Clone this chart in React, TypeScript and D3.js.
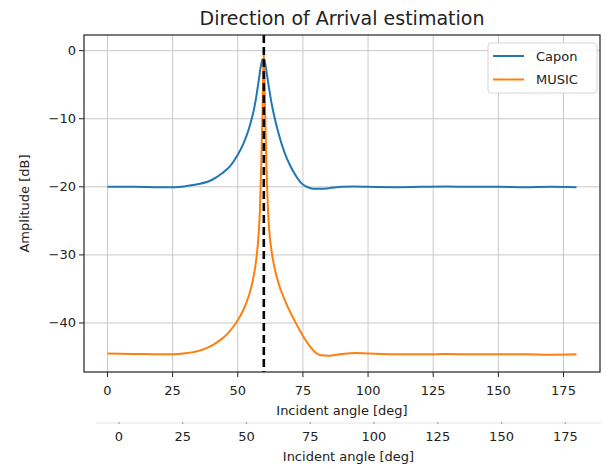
import React from "react";
import * as d3 from "d3";

const caponAngles = [0, 10, 20, 25, 30, 35, 40, 44, 47, 50, 52, 54, 55, 56, 57, 58, 59, 59.5, 60, 60.5, 61, 62, 63, 64, 65, 66, 67, 68, 70, 72, 74, 76, 78, 80, 82, 85, 90, 95, 100, 110, 120, 130, 140, 150, 160, 170, 180];
const caponValues = [-20.0, -20.0, -20.05, -20.05, -19.9, -19.6, -19.0, -18.0, -17.0, -15.3, -13.8, -11.8, -10.5, -9.0, -7.0, -4.5, -2.0, -1.3, -1.2, -1.8, -3.0, -5.5, -7.8, -9.6, -11.2, -12.6, -13.9, -15.0, -16.8, -18.2, -19.3, -19.9, -20.2, -20.3, -20.3, -20.2, -20.0, -19.95, -20.0, -20.05, -20.0, -19.95, -20.0, -20.0, -20.05, -20.0, -20.05];

const musicAngles = [0, 10, 20, 25, 30, 35, 38, 41, 44, 46, 48, 50, 52, 54, 55, 56, 57, 58, 58.5, 59, 59.5, 60, 60.5, 61, 61.5, 62, 63, 64, 65, 66, 68, 70, 72, 74, 76, 78, 80, 82, 85, 90, 95, 100, 110, 120, 130, 140, 150, 160, 170, 180];
const musicValues = [-44.5, -44.55, -44.6, -44.6, -44.45, -44.1, -43.7, -43.1, -42.3, -41.6, -40.7, -39.6, -38.2, -36.3, -35.0, -33.3, -31.0, -27.0, -23.5, -17.0, -9.0, 0.0, -9.0, -17.0, -22.5, -26.0, -29.5, -31.7, -33.3, -34.6, -36.6, -38.3, -39.8, -41.2, -42.5, -43.6, -44.4, -44.75, -44.8, -44.55, -44.4, -44.5, -44.6, -44.6, -44.55, -44.6, -44.6, -44.6, -44.65, -44.6];

const xTicks = [0, 25, 50, 75, 100, 125, 150, 175];
const yTicks = [0, -10, -20, -30, -40];
const doaAngle = 60;
const seriesNames = ["Capon", "MUSIC"];
const seriesColors = ["#1f77b4", "#ff7f0e"];

const W = 612, H = 469;
const M = { left: 84, right: 600, top: 35, bottom: 372 };

export default function App() {
  const x = d3.scaleLinear().domain([-9, 189]).range([M.left, M.right]);
  const y = d3.scaleLinear().domain([-47.2, 2.3]).range([M.bottom, M.top]);
  const x2 = d3.scaleLinear().domain([-9, 189]).range([96, 601]);
  const line = d3.line<[number, number]>().x(d => x(d[0])).y(d => y(d[1])).curve(d3.curveMonotoneX);
  const capon = line(caponAngles.map((a, i) => [a, caponValues[i]] as [number, number])) || "";
  const music = line(musicAngles.map((a, i) => [a, musicValues[i]] as [number, number])) || "";
  const font = "DejaVu Sans, sans-serif";
  return (
    <svg width={W} height={H} style={{ position: "fixed", left: 0, top: 0, background: "#fff" }} fontFamily={font}>
      <rect x={0} y={0} width={W} height={H} fill="#fff" />
      <text x={(M.left + M.right) / 2} y={25} textAnchor="middle" fontSize={19} fill="#222">Direction of Arrival estimation</text>
      <defs>
        <clipPath id="plot"><rect x={M.left} y={M.top} width={M.right - M.left} height={M.bottom - M.top} /></clipPath>
      </defs>
      {xTicks.map(t => (
        <line key={"gx" + t} x1={x(t)} x2={x(t)} y1={M.top} y2={M.bottom} stroke="#c8c8c8" strokeWidth={1} />
      ))}
      {yTicks.map(t => (
        <line key={"gy" + t} x1={M.left} x2={M.right} y1={y(t)} y2={y(t)} stroke="#c8c8c8" strokeWidth={1} />
      ))}
      <g clipPath="url(#plot)">
        <path d={capon} fill="none" stroke={seriesColors[0]} strokeWidth={2} />
        <path d={music} fill="none" stroke={seriesColors[1]} strokeWidth={2} />
        <line x1={x(doaAngle)} x2={x(doaAngle)} y1={M.top} y2={M.bottom} stroke="#000" strokeWidth={2.6} strokeDasharray="8,4" />
      </g>
      <rect x={M.left} y={M.top} width={M.right - M.left} height={M.bottom - M.top} fill="none" stroke="#222" strokeWidth={1.2} />
      {xTicks.map(t => (
        <g key={"tx" + t}>
          <line x1={x(t)} x2={x(t)} y1={M.bottom} y2={M.bottom + 5} stroke="#222" strokeWidth={1} />
          <text x={x(t)} y={395} textAnchor="middle" fontSize={13} fill="#222">{t}</text>
        </g>
      ))}
      {yTicks.map(t => (
        <g key={"ty" + t}>
          <line x1={M.left - 5} x2={M.left} y1={y(t)} y2={y(t)} stroke="#222" strokeWidth={1} />
          <text x={76} y={y(t) + 4.5} textAnchor="end" fontSize={13} fill="#222">{t === 0 ? "0" : "\u2212" + Math.abs(t)}</text>
        </g>
      ))}
      <text x={(M.left + M.right) / 2} y={415} textAnchor="middle" fontSize={13} fill="#222">Incident angle [deg]</text>
      <text transform={`translate(29, ${(M.top + M.bottom) / 2}) rotate(-90)`} textAnchor="middle" fontSize={13} fill="#222">Amplitude [dB]</text>
      {/* second axis */}
      <line x1={x2.range()[0]} x2={x2.range()[1]} y1={423} y2={423} stroke="#e4e4e4" strokeWidth={1} />
      {xTicks.map(t => (
        <g key={"t2" + t}>
          <circle cx={x2(t)} cy={423} r={0.8} fill="#888" />
          <text x={x2(t)} y={441} textAnchor="middle" fontSize={13} fill="#222">{t}</text>
        </g>
      ))}
      <text x={(x2.range()[0] + x2.range()[1]) / 2} y={461} textAnchor="middle" fontSize={13} fill="#222">Incident angle [deg]</text>
      {/* legend */}
      <rect x={488} y={43} width={109} height={50} rx={3} fill="#fff" fillOpacity={0.85} stroke="#d6d6d6" strokeWidth={1} />
      {seriesNames.map((n, i) => (
        <g key={n}>
          <line x1={493} x2={524} y1={56 + i * 23.5} y2={56 + i * 23.5} stroke={seriesColors[i]} strokeWidth={2} />
          <text x={536} y={60.5 + i * 23.5} fontSize={13} fill="#222">{n}</text>
        </g>
      ))}
    </svg>
  );
}
